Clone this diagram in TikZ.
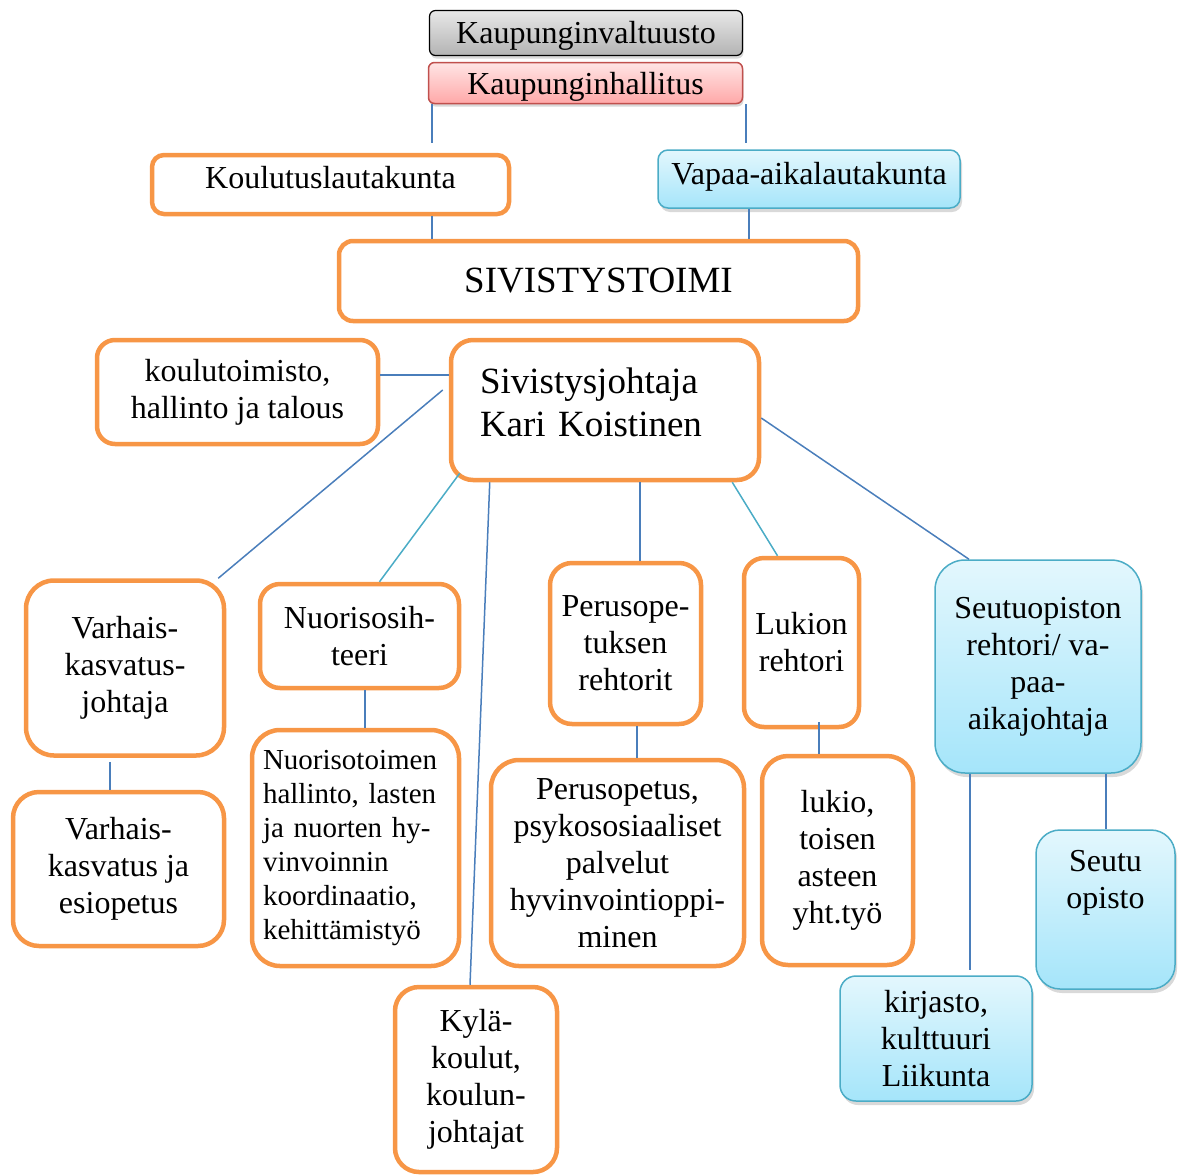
\documentclass[tikz,border=0pt]{standalone}
\usepackage{fontspec}
\setmainfont{Liberation Serif}
\usetikzlibrary{shadows,calc}
\definecolor{obord}{HTML}{F79646}
\definecolor{bbord}{HTML}{4BACC6}
\definecolor{btop}{HTML}{E3F7FD}
\definecolor{bbot}{HTML}{A5E5FA}
\definecolor{gtop}{HTML}{E8E8E8}
\definecolor{gbot}{HTML}{B3B3B3}
\definecolor{ptop}{HTML}{FFE5E5}
\definecolor{pbot}{HTML}{FFA8A8}
\definecolor{pbord}{HTML}{C0504D}
\definecolor{lnblue}{HTML}{4A7EBB}
\definecolor{lnteal}{HTML}{4BACC6}
\newcommand{\myfsa}{\fontsize{32}{37}\selectfont}
\newcommand{\myfsb}{\fontsize{37}{43}\selectfont}
\newcommand{\myfsc}{\fontsize{29}{34}\selectfont}
\begin{document}
\begin{tikzpicture}[x=1pt,y=-1pt,
  obox/.style={draw=obord, line width=4.5pt, fill=white, rounded corners=20pt, inner sep=0pt, align=center, font=\myfsa},
  bbox/.style={draw=bbord, line width=1.5pt, top color=btop, bottom color=bbot, rounded corners=20pt, inner sep=0pt, align=center, font=\myfsa, drop shadow={opacity=0.3, shadow xshift=2pt, shadow yshift=-4pt}},
  gbox/.style={draw=black, line width=1.2pt, top color=gtop, bottom color=gbot, rounded corners=6pt, inner sep=0pt, font=\myfsa, drop shadow={opacity=0.3, shadow xshift=1pt, shadow yshift=-3pt}},
  pbox/.style={draw=pbord, line width=1.5pt, top color=ptop, bottom color=pbot, rounded corners=6pt, inner sep=0pt, font=\myfsa, drop shadow={opacity=0.3, shadow xshift=1pt, shadow yshift=-3pt}},
  conn/.style={draw=lnblue, line width=1.5pt},
  connt/.style={draw=lnteal, line width=1.5pt}
]
\useasboundingbox (0,0) rectangle (1179,1176);

% top
\node[gbox, minimum width=313, minimum height=45, text height=27pt, text depth=7pt] (kv) at (586,33) {Kaupunginvaltuusto};
\node[pbox, minimum width=314, minimum height=41, text height=30pt, text depth=7pt] (kh) at (585.5,83) {Kaupunginhallitus};
\node[obox, rounded corners=12pt, minimum width=357, minimum height=59, text height=22pt, text depth=14pt] (kl) at (330.5,184.5) {Koulutuslautakunta};
\node[bbox, rounded corners=10pt, minimum width=302, minimum height=58, text height=22pt, text depth=12pt] (va) at (809,179) {Vapaa-aikalautakunta};
\node[obox, rounded corners=14pt, minimum width=519, minimum height=80, font=\myfsb] (st) at (598.5,281) {SIVISTYSTOIMI};

% second level
\node[obox, rounded corners=18pt, minimum width=281, minimum height=104] (ko) at (237.5,392) {koulutoimisto,\\hallinto ja talous};
\node[obox, rounded corners=22pt, minimum width=308, minimum height=140] (sj) at (605,410) {};
\node[font=\myfsb, text width=250pt, align=left, inner sep=0pt] (sjtext) at ([yshift=8pt]sj.center) {Sivistysjohtaja\\Kari Koistinen};

% third level
\node[obox, rounded corners=28pt, minimum width=198, minimum height=175] (vj) at (125,668) {Varhais-\\kasvatus-\\johtaja};
\node[obox, rounded corners=20pt, minimum width=199, minimum height=104] (ns) at (359.5,636) {Nuorisosih-\\teeri};
\node[obox, rounded corners=22pt, minimum width=151, minimum height=161] (pr) at (625.5,643.5) {Perusope-\\tuksen\\rehtorit};
\node[obox, rounded corners=20pt, minimum width=115, minimum height=169] (lr) at (801.5,642.5) {Lukion\\rehtori};
\node[bbox, rounded corners=30pt, minimum width=206, minimum height=213] (so) at (1038,666.5) {Seutuopiston\\rehtori/ va-\\paa-\\aikajohtaja};

% fourth level
\node[obox, rounded corners=26pt, minimum width=211, minimum height=154] (ve) at (118.5,869) {Varhais-\\kasvatus ja\\esiopetus};
\node[obox, rounded corners=28pt, minimum width=207, minimum height=236, font=\myfsc, text width=185pt, align=left] (nt) at (355.5,848) {Nuorisotoimen\\hallinto, lasten\\ja nuorten hy-\\vinvoinnin\\koordinaatio,\\kehittämistyö};
\node[obox, rounded corners=28pt, minimum width=253, minimum height=206] (pp) at (617.5,863) {Perusopetus,\\psykososiaaliset\\palvelut\\hyvinvointioppi-\\minen};
\node[obox, rounded corners=26pt, minimum width=151, minimum height=209] (lu) at (837.5,860.5) {lukio,\\toisen\\asteen\\yht.työ};
\node[bbox, rounded corners=24pt, minimum width=139, minimum height=159] (sop) at (1105.5,909.5) {};
\node[font=\myfsa, align=center, inner sep=0pt] (soptext) at ([yshift=27pt]sop.center) {Seutu\\opisto};
\node[bbox, rounded corners=16pt, minimum width=192, minimum height=125] (kk) at (936,1038.5) {kirjasto,\\kulttuuri\\Liikunta};
\node[obox, rounded corners=24pt, minimum width=162, minimum height=185] (ky) at (476,1079.5) {Kylä-\\koulut,\\koulun-\\johtajat};

% connectors top
\draw[conn, shorten >=10pt] ([xshift=-153.5pt]kh.south) -- ([xshift=-153.5pt]kh.south |- kl.north);
\draw[conn, shorten >=6pt] ([xshift=160.5pt]kh.south) -- ([xshift=160.5pt]kh.south |- va.north);
\draw[conn] ([xshift=101.5pt]kl.south) -- ([xshift=101.5pt]kl.south |- st.north);
\draw[conn] ([xshift=-60pt]va.south) -- ([xshift=-60pt]va.south |- st.north);

% connectors from Sivistysjohtaja
\draw[conn] ([yshift=35pt]sj.west) -- ([yshift=35pt]sj.west -| ko.east);
\draw[conn] ([shift={(-6pt,20pt)}]sj.west) -- ([xshift=-8pt]vj.north east);
\draw[connt] ([shift={(11pt,9pt)}]sj.south west) -- ([xshift=20pt]ns.north);
\draw[conn] ([xshift=41pt]sj.south west) -- ([xshift=-6pt]ky.north);
\draw[conn] ([xshift=35pt]sj.south) -- ([xshift=35pt]sj.south |- pr.north);
\draw[connt] ([xshift=-29pt]sj.south east) -- ([xshift=-24pt]lr.north);
\draw[conn] ([yshift=-8pt]sj.east) -- ([xshift=-69pt]so.north);

% lower connectors
\draw[conn] ([shift={(-15pt,-4pt)}]vj.south) -- ([xshift=-15pt]vj.south |- ve.north);
\draw[conn] ([xshift=5.5pt]ns.south) -- ([xshift=5.5pt]ns.south |- nt.north);
\draw[conn] ([xshift=11.5pt]pr.south) -- ([xshift=11.5pt]pr.south |- pp.north);
\draw[conn] ([shift={(17.5pt,7pt)}]lr.south) -- ([xshift=17.5pt]lr.south |- lu.north);
\draw[conn] ([xshift=68pt]so.south) -- ([xshift=68pt]so.south |- sop.north);
\draw[conn, shorten >=5pt] ([xshift=-68pt]so.south) -- ([xshift=-68pt]so.south |- kk.north);
\end{tikzpicture}
\end{document}
